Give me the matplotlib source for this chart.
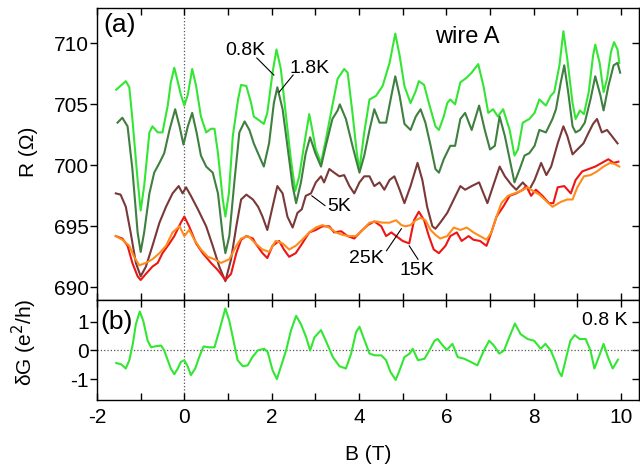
import matplotlib
matplotlib.use("Agg")
import matplotlib.pyplot as plt

plt.rcParams['font.family'] = ['Liberation Sans', 'DejaVu Sans']
plt.rcParams['axes.unicode_minus'] = False

# --- data ---
b_08k = [-1.56, -1.34, -1.26, -1.19, -1.07, -1.0, -0.92, -0.80, -0.73, -0.61,
         -0.5, -0.38, -0.31, -0.23, -0.18, -0.08, 0.0, 0.08, 0.18, 0.27,
         0.38, 0.5, 0.61, 0.69, 0.77, 0.88, 0.94, 1.02, 1.11, 1.23,
         1.30, 1.42, 1.53, 1.59, 1.67, 1.82, 1.90, 2.02, 2.11, 2.21,
         2.32, 2.44, 2.54, 2.63, 2.74, 2.86, 2.93, 3.01, 3.13, 3.24,
         3.39, 3.51, 3.66, 3.74, 3.85, 3.95, 4.01, 4.12, 4.24, 4.39,
         4.54, 4.70, 4.83, 4.93, 5.04, 5.18, 5.30, 5.37, 5.49, 5.60,
         5.75, 5.83, 5.94, 6.02, 6.09, 6.20, 6.32, 6.47, 6.58, 6.73,
         6.85, 6.96, 7.07, 7.18, 7.30, 7.45, 7.56, 7.64, 7.75, 7.90,
         8.02, 8.13, 8.28, 8.39, 8.47, 8.59, 8.68, 8.77, 8.89, 8.96,
         9.06, 9.15, 9.26, 9.36, 9.41, 9.51, 9.60, 9.68, 9.77, 9.84,
         9.92, 9.96]
r_08k = [706.2, 706.9, 706.4, 703.8, 698.8, 696.3, 698.3, 702.7, 703.2, 702.7,
         702.7, 704.9, 706.8, 708.0, 707.3, 705.8, 704.9, 705.8, 707.9, 706.5,
         704.0, 702.7, 703.0, 703.0, 701.0, 697.2, 695.8, 697.7, 702.4, 705.4,
         706.6, 706.5, 705.1, 704.0, 703.8, 703.4, 704.3, 707.6, 709.5, 707.9,
         704.3, 700.5, 697.9, 699.1, 701.6, 704.2, 702.9, 701.3, 700.2, 702.1,
         704.9, 707.1, 707.9, 707.6, 704.3, 701.0, 699.7, 702.7, 705.4, 705.7,
         706.5, 708.4, 710.8, 709.0, 706.5, 705.1, 706.1, 706.9, 706.6, 705.1,
         703.2, 702.9, 704.0, 705.1, 705.4, 705.0, 706.8, 707.2, 707.6, 708.3,
         706.5, 704.3, 704.6, 704.0, 704.6, 702.9, 700.8, 701.3, 703.5, 703.8,
         704.3, 705.4, 704.9, 705.7, 706.0, 708.2, 711.0, 708.7, 705.1, 703.8,
         704.5, 704.2, 706.0, 709.0, 709.9, 708.4, 706.0, 707.1, 709.3, 710.1,
         709.5, 708.4]

b_18k = [-1.53, -1.42, -1.30, -1.19, -1.07, -1.0, -0.92, -0.80, -0.69, -0.57,
         -0.46, -0.34, -0.21, -0.11, -0.02, 0.08, 0.18, 0.28, 0.38, 0.5,
         0.65, 0.77, 0.88, 0.94, 1.03, 1.15, 1.26, 1.38, 1.49, 1.59,
         1.71, 1.82, 1.94, 2.05, 2.13, 2.25, 2.36, 2.48, 2.56, 2.67,
         2.78, 2.88, 3.0, 3.13, 3.24, 3.39, 3.51, 3.56, 3.70, 3.85,
         4.01, 4.12, 4.24, 4.35, 4.47, 4.62, 4.74, 4.83, 4.93, 5.04,
         5.18, 5.30, 5.41, 5.52, 5.64, 5.75, 5.83, 5.94, 6.09, 6.20,
         6.32, 6.43, 6.58, 6.75, 6.88, 7.0, 7.11, 7.22, 7.34, 7.45,
         7.56, 7.68, 7.79, 7.90, 8.02, 8.13, 8.28, 8.43, 8.51, 8.62,
         8.70, 8.79, 8.89, 8.96, 9.06, 9.17, 9.30, 9.41, 9.53, 9.60,
         9.71, 9.83, 9.92, 9.98]
r_18k = [703.5, 703.9, 703.2, 699.7, 694.5, 692.9, 694.5, 697.7, 699.4, 700.2,
         701.0, 702.9, 704.6, 703.2, 701.7, 703.2, 704.3, 702.7, 700.8, 699.9,
         699.4, 697.7, 694.2, 692.8, 694.2, 698.8, 702.7, 703.6, 702.9, 701.8,
         700.8, 699.9, 701.8, 705.1, 706.4, 704.6, 701.6, 698.3, 696.9, 698.6,
         701.0, 702.3, 701.0, 699.9, 701.6, 703.8, 704.5, 705.0, 703.8, 701.6,
         699.4, 700.8, 702.9, 704.6, 703.5, 703.5, 705.7, 707.3, 705.7, 703.4,
         702.9, 704.0, 704.6, 703.5, 701.6, 699.7, 699.4, 700.5, 701.6, 701.6,
         703.8, 704.3, 702.9, 704.9, 702.9, 701.3, 701.6, 704.0, 702.4, 700.5,
         698.6, 699.7, 700.8, 701.0, 701.6, 702.9, 702.7, 703.8, 704.6, 706.8,
         708.2, 706.0, 703.2, 702.7, 702.9, 703.5, 705.4, 707.3, 705.7, 704.5,
         706.5, 708.2, 708.4, 707.6]

b_5k = [-1.57, -1.46, -1.34, -1.23, -1.11, -1.0, -0.88, -0.73, -0.57, -0.42,
        -0.27, -0.13, -0.04, 0.04, 0.15, 0.31, 0.5, 0.65, 0.80, 0.94,
        1.07, 1.19, 1.30, 1.42, 1.57, 1.69, 1.79, 1.90, 2.02, 2.13,
        2.25, 2.36, 2.48, 2.59, 2.69, 2.78, 2.90, 3.01, 3.13, 3.20,
        3.32, 3.43, 3.55, 3.66, 3.78, 3.89, 4.01, 4.12, 4.24, 4.35,
        4.47, 4.58, 4.70, 4.81, 4.93, 5.04, 5.18, 5.34, 5.45, 5.56,
        5.68, 5.75, 5.86, 6.02, 6.17, 6.32, 6.43, 6.58, 6.75, 6.85,
        6.94, 7.07, 7.22, 7.34, 7.49, 7.60, 7.75, 7.90, 8.02, 8.17,
        8.29, 8.40, 8.55, 8.68, 8.77, 8.89, 9.0, 9.14, 9.26, 9.36,
        9.45, 9.56, 9.68, 9.79, 9.92]
r_5k = [697.7, 697.6, 696.6, 694.5, 692.0, 690.9, 691.7, 693.4, 695.3, 696.6,
        697.7, 698.3, 697.7, 698.2, 697.5, 696.4, 695.0, 693.4, 691.7, 690.5,
        692.3, 695.0, 697.2, 697.6, 697.2, 696.6, 695.8, 694.7, 696.6, 698.3,
        697.7, 695.8, 694.9, 696.1, 696.4, 697.5, 697.7, 698.6, 699.1, 698.6,
        699.7, 699.4, 699.1, 699.2, 698.3, 697.7, 698.6, 699.1, 699.1, 698.3,
        698.6, 698.0, 698.8, 699.1, 698.0, 696.9, 698.3, 700.2, 698.8, 696.6,
        695.0, 694.8, 695.3, 696.1, 697.2, 698.3, 698.0, 698.3, 698.6, 697.7,
        696.9, 698.3, 699.9, 699.1, 698.4, 698.0, 698.6, 698.0, 698.8, 700.2,
        699.2, 699.9, 701.8, 703.2, 702.4, 700.9, 701.3, 701.8, 702.7, 703.4,
        703.8, 702.7, 702.9, 702.4, 701.8]

b_15k = [-1.57, -1.42, -1.30, -1.19, -1.07, -1.0, -0.88, -0.73, -0.61, -0.5,
         -0.34, -0.23, -0.08, 0.0, 0.11, 0.27, 0.42, 0.61, 0.77, 0.94,
         1.07, 1.19, 1.30, 1.42, 1.57, 1.63, 1.79, 1.90, 2.02, 2.17,
         2.28, 2.40, 2.55, 2.70, 2.86, 3.01, 3.16, 3.32, 3.43, 3.59,
         3.74, 3.89, 4.05, 4.20, 4.35, 4.51, 4.62, 4.74, 4.85, 5.00,
         5.15, 5.26, 5.37, 5.49, 5.60, 5.71, 5.83, 5.98, 6.09, 6.24,
         6.35, 6.51, 6.62, 6.77, 6.92, 7.03, 7.15, 7.30, 7.45, 7.60,
         7.75, 7.83, 7.94, 8.05, 8.20, 8.35, 8.45, 8.55, 8.70, 8.85,
         8.96, 9.11, 9.26, 9.41, 9.56, 9.71, 9.83, 9.94]
r_15k = [694.2, 694.0, 693.4, 692.0, 690.9, 690.6, 691.1, 691.7, 692.0, 692.8,
         693.6, 694.2, 695.3, 695.8, 695.0, 693.6, 692.8, 692.0, 691.4, 690.6,
         691.1, 692.8, 693.9, 694.2, 694.0, 693.6, 692.8, 692.4, 693.4, 693.8,
         693.1, 692.5, 692.8, 693.6, 694.5, 694.7, 695.0, 695.0, 694.5, 694.6,
         694.2, 694.0, 694.6, 695.1, 695.4, 695.0, 694.2, 694.5, 694.2, 693.8,
         693.6, 695.5, 696.2, 695.5, 694.2, 693.1, 692.8, 693.4, 694.2, 694.5,
         693.8, 694.2, 693.9, 693.8, 693.4, 694.5, 695.8, 696.6, 697.5, 697.7,
         698.0, 698.3, 697.5, 698.0, 697.5, 696.9, 696.9, 698.2, 698.3, 697.7,
         698.8, 699.5, 699.7, 699.9, 700.2, 700.5, 700.2, 700.3]

b_25k = [-1.57, -1.42, -1.26, -1.15, -1.03, -0.88, -0.73, -0.57, -0.42, -0.27,
         -0.11, 0.0, 0.11, 0.23, 0.38, 0.54, 0.69, 0.84, 1.03, 1.19,
         1.30, 1.46, 1.63, 1.79, 1.94, 2.09, 2.25, 2.40, 2.55, 2.70,
         2.86, 3.01, 3.16, 3.32, 3.47, 3.62, 3.78, 3.93, 4.08, 4.24,
         4.39, 4.54, 4.70, 4.85, 4.97, 5.07, 5.18, 5.30, 5.41, 5.52,
         5.64, 5.75, 5.86, 6.02, 6.17, 6.32, 6.47, 6.62, 6.77, 6.92,
         7.03, 7.15, 7.26, 7.41, 7.56, 7.71, 7.86, 7.98, 8.13, 8.28,
         8.43, 8.62, 8.77, 8.89, 9.0, 9.15, 9.30, 9.45, 9.60, 9.75,
         9.86, 9.96]
r_25k = [694.2, 693.9, 693.4, 692.5, 691.8, 692.0, 692.3, 692.8, 693.4, 694.5,
         695.0, 694.2, 694.7, 693.9, 693.1, 692.5, 692.3, 692.0, 692.3, 693.4,
         694.0, 694.2, 693.6, 693.1, 692.9, 693.8, 693.6, 693.1, 693.4, 693.9,
         694.5, 694.9, 695.1, 694.9, 694.5, 694.3, 694.2, 694.2, 694.7, 695.3,
         695.4, 695.3, 695.3, 695.5, 695.1, 695.0, 695.1, 695.5, 695.7, 695.5,
         694.7, 694.3, 694.0, 694.2, 694.9, 694.7, 694.9, 694.5, 694.2, 693.9,
         694.5, 695.8, 696.9, 697.5, 697.7, 697.9, 698.2, 697.9, 697.6, 697.1,
         696.6, 697.0, 697.2, 697.2, 698.2, 699.1, 699.2, 699.5, 699.9, 700.2,
         700.1, 699.9]

b_dg = [-1.56, -1.45, -1.34, -1.26, -1.18, -1.11, -1.02, -0.94, -0.84, -0.76,
        -0.65, -0.53, -0.46, -0.38, -0.31, -0.23, -0.15, -0.08, 0.0, 0.08,
        0.15, 0.25, 0.34, 0.44, 0.57, 0.69, 0.80, 0.94, 1.03, 1.11,
        1.22, 1.34, 1.45, 1.56, 1.68, 1.83, 1.91, 2.02, 2.12, 2.21,
        2.33, 2.44, 2.56, 2.67, 2.79, 2.88, 2.98, 3.13, 3.24, 3.40,
        3.55, 3.70, 3.82, 3.93, 4.01, 4.13, 4.24, 4.36, 4.51, 4.62,
        4.72, 4.84, 4.93, 5.04, 5.16, 5.23, 5.35, 5.50, 5.61, 5.73,
        5.80, 5.92, 6.01, 6.14, 6.26, 6.41, 6.56, 6.71, 6.86, 6.98,
        7.09, 7.21, 7.32, 7.44, 7.57, 7.70, 7.86, 8.01, 8.16, 8.27,
        8.39, 8.50, 8.58, 8.64, 8.73, 8.84, 8.94, 9.05, 9.19, 9.30,
        9.39, 9.49, 9.60, 9.70, 9.81, 9.93]
dg_08k = [-0.44, -0.48, -0.63, -0.34, 0.23, 0.92, 1.36, 1.03, 0.34, 0.11,
          0.15, 0.17, 0.0, -0.34, -0.63, -0.83, -0.63, -0.40, -0.34, -0.57,
          -0.86, -0.63, -0.23, 0.14, 0.11, 0.11, 0.69, 1.47, 1.03, 0.46,
          -0.34, -0.55, -0.52, -0.23, 0.0, 0.06, -0.06, -0.69, -1.0, -0.57,
          0.0, 0.69, 1.21, 0.92, 0.46, 0.0, 0.46, 0.71, 0.34, -0.23,
          -0.55, -0.63, -0.11, 0.63, 0.83, 0.34, -0.11, -0.17, -0.17, -0.34,
          -0.75, -1.03, -0.69, -0.23, -0.11, 0.06, -0.34, -0.29, 0.0, 0.34,
          0.40, 0.17, 0.02, 0.23, -0.23, -0.29, -0.40, -0.52, 0.0, 0.34,
          0.17, -0.11, 0.0, 0.46, 0.94, 0.57, 0.40, 0.34, 0.06, 0.23,
          0.0, -0.40, -0.75, -0.90, -0.34, 0.34, 0.54, 0.40, 0.40, 0.0,
          -0.63, -0.23, 0.23, -0.23, -0.63, -0.32]

# curve styles: (B, R, colour)
curves = [
    (b_08k, r_08k, '#33e633'),
    (b_18k, r_18k, '#3f7f3f'),
    (b_5k, r_5k, '#7a3838'),
    (b_15k, r_15k, '#ee1515'),
    (b_25k, r_25k, '#ff8c1a'),
]

# --- figure ---
fig = plt.figure(figsize=(6.4, 4.72), dpi=100)
W, H = 640, 472
ax_a = fig.add_axes([97 / W, 1 - 299.5 / H, 541.5 / W, 291.5 / H])
ax_b = fig.add_axes([97 / W, 1 - 400 / H, 541.5 / W, 100.5 / H], sharex=ax_a)

for b, r, c in curves:
    ax_a.plot(b, r, color=c, lw=1.5, zorder=3)
ax_b.plot(b_dg, dg_08k, color='#33e633', lw=1.5, zorder=3)

for ax in (ax_a, ax_b):
    ax.axvline(0, color='#555555', ls=':', lw=0.9, zorder=1)
    for s in ax.spines.values():
        s.set_linewidth(1.0)
ax_b.axhline(0, color='#555555', ls=':', lw=0.9, zorder=1)

ax_a.set_xlim(-2, 10.4)
ax_a.set_ylim(689.0, 712.9)
ax_b.set_ylim(-1.73, 1.78)

a_yticks = [690, 695, 700, 705, 710]
b_yticks = [-1, 0, 1]
ax_a.set_yticks(a_yticks)
ax_b.set_yticks(b_yticks)
ax_b.set_xticks([-2, 0, 2, 4, 6, 8, 10])
ax_b.set_xticks(range(-1, 11, 2), minor=True)

for ax, yt in ((ax_a, a_yticks), (ax_b, b_yticks)):
    ax.tick_params(axis='x', which='both', direction='in', top=True,
                   bottom=True, length=5, width=1.0, labelsize=15, pad=6)
    ax.tick_params(axis='y', which='both', direction='out', left=True,
                   right=False, length=5, width=1.0, labelsize=15, pad=1)
    sec = ax.secondary_yaxis('right')
    sec.set_yticks(yt)
    sec.tick_params(direction='in', length=5, width=1.0, labelright=False)
ax_a.tick_params(axis='x', labelbottom=False)

# axis labels
fig.text(29 / W, 1 - 152 / H, 'R (\u03a9)', rotation=90, ha='center',
         va='center', fontsize=15)
fig.text(24 / W, 1 - 342 / H, '\u03b4G (e$^2$/h)', rotation=90, ha='center',
         va='center', fontsize=15)
fig.text((97 + 541.5 / 2) / W, 1 - 455 / H, 'B (T)', ha='center',
         va='center', fontsize=15)

# panel texts
ax_a.text(-1.86, 711.5, '(a)', fontsize=19, ha='left', va='center')
ax_a.text(6.47, 710.5, 'wire A', fontsize=17, ha='center', va='center')
ax_b.text(-1.93, 1.0, '(b)', fontsize=19, ha='left', va='center')
ax_b.text(10.15, 1.05, '0.8 K', fontsize=14, ha='right', va='center')

# temperature labels with leader lines: (text, text pos, line start, line end)
labels = [
    ('0.8K', (1.39, 709.4), (1.66, 708.8), (2.05, 707.4)),
    ('1.8K', (2.87, 707.9), (2.49, 707.4), (2.17, 706.0)),
    ('5K', (3.54, 696.6), (3.22, 696.7), (2.92, 697.5)),
    ('25K', (4.17, 692.4), (4.63, 693.0), (4.97, 694.8)),
    ('15K', (5.33, 691.4), (5.35, 692.3), (5.15, 693.4)),
]
for txt, pos, p0, p1 in labels:
    ax_a.text(pos[0], pos[1], txt, fontsize=14, ha='center', va='center')
    ax_a.plot([p0[0], p1[0]], [p0[1], p1[1]], color='black', lw=0.8,
              zorder=4)

fig.savefig('out.png', dpi=100)
